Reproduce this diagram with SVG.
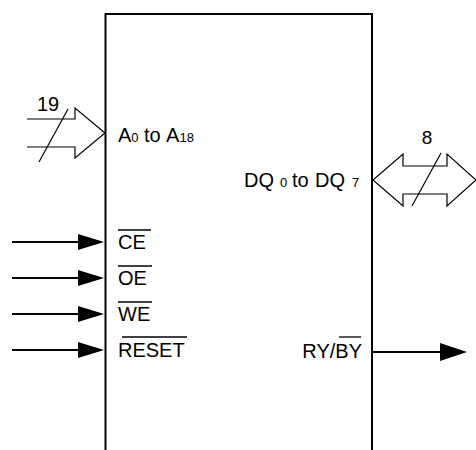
<svg xmlns="http://www.w3.org/2000/svg" width="476" height="450" viewBox="0 0 476 450">
<style>
text{font-family:"Liberation Sans",Arial,sans-serif;fill:#000}
.lbl{font-size:20px}
.sub{font-size:13px}
.bus{fill:#fff;stroke:#000;stroke-width:1.2}
.thin{stroke:#000;stroke-width:1.2;fill:none}
.sig{stroke:#000;stroke-width:2.2;fill:none}
.ov{stroke:#000;stroke-width:1.3}
.head{fill:#000}
</style>
<rect width="476" height="450" fill="#fff"/>
<g id="chip">
<path d="M105.5,452 V14 H372 V452" fill="none" stroke="#000" stroke-width="2"/>
<text class="lbl" x="118" y="142">A<tspan class="sub" x="131.3" y="142">0</tspan><tspan x="144" y="142">to</tspan><tspan x="166" y="142">A</tspan><tspan class="sub" x="179.5" y="142">18</tspan></text>
<text class="lbl" x="244" y="187">DQ<tspan class="sub" x="280" y="187">0</tspan><tspan x="292" y="187">to</tspan><tspan x="315" y="187">DQ</tspan><tspan class="sub" x="352" y="187">7</tspan></text>
<text class="lbl" x="118" y="249">CE</text>
<line class="ov" x1="118" y1="230" x2="151" y2="230"/>
<text class="lbl" x="118" y="285">OE</text>
<line class="ov" x1="118" y1="266" x2="152" y2="266"/>
<text class="lbl" x="118" y="321">WE</text>
<line class="ov" x1="118" y1="302" x2="152" y2="302"/>
<text class="lbl" x="118" y="357">RESET</text>
<line class="ov" x1="122" y1="337" x2="187" y2="337"/>
<text class="lbl" x="362" y="358" text-anchor="end">RY/BY</text>
<line class="ov" x1="339" y1="337" x2="361" y2="337"/>
</g>
<g id="connectors">
<g id="addr-bus">
<path class="bus" d="M27,119 H75 V108 L105,133 L75,158 V147 H27"/>
<line class="thin" x1="39" y1="162" x2="68" y2="109"/>
<text class="lbl" x="37" y="111">19</text>
</g>
<g id="data-bus">
<path class="bus" d="M403,166 H447 V154 L476,180 L447,206 V194 H403 V206 L373,180 L403,154 Z"/>
<line class="thin" x1="412" y1="206" x2="441" y2="153"/>
<text x="427" y="144" text-anchor="middle" style="font-size:19px">8</text>
</g>
<g id="ce-arrow"><line class="sig" x1="12" y1="242" x2="80" y2="242"/><polygon class="head" points="78,234 104,242 78,250"/></g>
<g id="oe-arrow"><line class="sig" x1="12" y1="278" x2="80" y2="278"/><polygon class="head" points="78,270 104,278 78,286"/></g>
<g id="we-arrow"><line class="sig" x1="12" y1="314" x2="80" y2="314"/><polygon class="head" points="78,306 104,314 78,322"/></g>
<g id="reset-arrow"><line class="sig" x1="12" y1="350" x2="80" y2="350"/><polygon class="head" points="78,342 104,350 78,358"/></g>
<g id="ryby-arrow"><line class="sig" x1="373" y1="352" x2="442" y2="352"/><polygon class="head" points="440,343 467,352 440,361"/></g>
</g>
</svg>
